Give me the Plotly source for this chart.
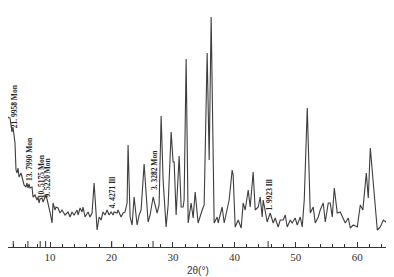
import plotly.graph_objects as go
import math

two_theta = [
    3.00, 3.16, 3.49, 3.81, 3.97, 4.30, 4.46, 4.63, 4.79, 4.95,
    5.28, 5.44, 5.60, 5.77, 6.09, 6.25, 6.42, 6.58, 6.74, 7.07,
    7.23, 7.56, 7.88, 8.05, 8.21, 8.37, 8.70, 8.86, 9.35, 9.67,
    10.00, 10.33, 10.49, 10.81, 10.98, 11.30, 11.63, 11.95, 12.44, 12.93,
    13.26, 13.58, 13.91, 14.40, 14.56, 14.89, 15.21, 15.37, 15.70, 16.19,
    16.51, 16.84, 17.17, 17.49, 17.66, 17.98, 18.31, 18.63, 18.96, 19.28,
    19.61, 19.93, 20.26, 20.42, 20.91, 21.07, 21.56, 21.89, 22.21, 22.54,
    22.70, 23.03, 23.36, 23.68, 24.17, 24.50, 24.82, 25.31, 25.96, 26.29,
    26.78, 27.10, 27.43, 27.75, 28.08, 28.40, 28.89, 29.22, 29.71, 30.03,
    30.20, 30.52, 31.01, 31.34, 31.66, 31.82, 32.15, 32.48, 32.96, 33.29,
    33.62, 34.10, 34.43, 34.76, 35.08, 35.57, 35.90, 36.22, 36.71, 37.20,
    37.36, 37.69, 38.01, 38.34, 38.83, 39.15, 39.64, 39.80, 40.13, 40.62,
    41.11, 41.43, 41.76, 42.25, 42.57, 43.06, 43.39, 43.88, 44.20, 44.53,
    44.69, 45.02, 45.34, 45.83, 46.32, 46.64, 47.13, 47.46, 47.95, 48.28,
    48.60, 49.09, 49.41, 49.90, 50.23, 50.72, 51.04, 51.37, 51.86, 52.35,
    52.83, 53.16, 53.65, 53.97, 54.46, 54.79, 55.28, 55.60, 55.93, 56.26,
    56.74, 57.23, 57.56, 58.05, 58.54, 58.86, 59.35, 60.00, 60.49, 60.91,
    61.47, 61.79, 62.12, 62.61, 63.26, 63.75, 64.24, 64.89,
]
intensity = [
    125, 130, 129, 115, 120, 104, 77, 74, 79, 70,
    74, 69, 67, 62, 60, 64, 59, 63, 59, 60,
    50, 52, 47, 50, 44, 48, 49, 45, 52, 44,
    35, 24, 44, 37, 40, 39, 34, 37, 32, 35,
    30, 35, 32, 37, 32, 39, 35, 40, 30, 35,
    30, 34, 64, 34, 17, 30, 27, 35, 32, 37,
    32, 35, 32, 35, 34, 37, 30, 34, 35, 44,
    102, 30, 22, 50, 22, 32, 37, 83, 25, 32,
    50, 42, 34, 42, 131, 67, 20, 42, 115, 85,
    85, 32, 91, 40, 40, 47, 188, 24, 44, 29,
    55, 24, 32, 37, 42, 194, 87, 230, 24, 30,
    24, 32, 40, 24, 37, 47, 77, 72, 20, 27,
    19, 44, 37, 57, 40, 75, 37, 40, 50, 30,
    47, 37, 25, 34, 24, 29, 20, 27, 27, 32,
    20, 27, 24, 29, 22, 30, 20, 47, 139, 34,
    40, 24, 30, 37, 44, 25, 44, 44, 30, 59,
    34, 35, 30, 24, 29, 19, 22, 20, 42, 37,
    74, 49, 99, 60, 17, 20, 27, 24,
]

# annotated reflections (d-spacing in Angstrom, phase)
d_spacing = [21.9958, 13.7990, 10.5175, 9.5220, 4.4271, 3.3282, 1.9923]
phase = ["Mon", "Mon", "Mon", "Mon", "Ill", "Mon", "Ill"]
d_text = ["21. 9958", "13. 7990", "10. 5175", "9. 5220", "4. 4271", "3. 3282", "1. 9923"]
label_base = [117, 64, 47, 47, 37, 55, 34]
wavelength = 1.5406

tick_vals = [10, 20, 30, 40, 50, 60]

fig = go.Figure()
fig.add_trace(go.Scatter(
    x=two_theta, y=intensity, mode="lines",
    line=dict(color="#3d3d3d", width=1.1),
    hoverinfo="skip", showlegend=False,
))

peak_pos = [2 * math.degrees(math.asin(wavelength / (2 * d))) for d in d_spacing]

for pos, dt, ph, base in zip(peak_pos, d_text, phase, label_base):
    fig.add_annotation(
        x=pos, y=base, xref="x", yref="y",
        text=f"<b>{dt} {ph}</b>", textangle=-90, showarrow=False,
        xanchor="center", yanchor="bottom", xshift=1,
        font=dict(family="Liberation Serif, Times New Roman, serif", size=7.5, color="#222"),
    )
    fig.add_shape(type="line", xref="x", yref="y",
                  x0=pos, x1=pos, y0=-1, y1=6,
                  line=dict(color="#333", width=1))

fig.add_annotation(
    x=0.5, y=0, xref="paper", yref="paper", yshift=-23,
    text="2θ(°)", showarrow=False, xanchor="center", yanchor="middle",
    font=dict(family="Liberation Sans, Arial, sans-serif", size=10, color="#333"),
)

fig.update_layout(
    width=386, height=269,
    margin=dict(l=0, r=6, t=0, b=30, autoexpand=False),
    paper_bgcolor="white", plot_bgcolor="white",
    xaxis=dict(
        range=[3.16, 65], tickvals=tick_vals, ticktext=[str(v) for v in tick_vals],
        ticks="inside", ticklen=5, tickcolor="#333", tickwidth=1,
        minor=dict(tick0=0, dtick=2, ticks="inside", ticklen=3, tickcolor="#333"),
        showline=True, linecolor="#333", linewidth=1,
        showgrid=False, zeroline=False,
        tickfont=dict(family="Liberation Serif, Times New Roman, serif", size=11, color="#333"),
    ),
    yaxis=dict(range=[0, 239], visible=False, showgrid=False, zeroline=False),
)

fig.write_html("out.html")
